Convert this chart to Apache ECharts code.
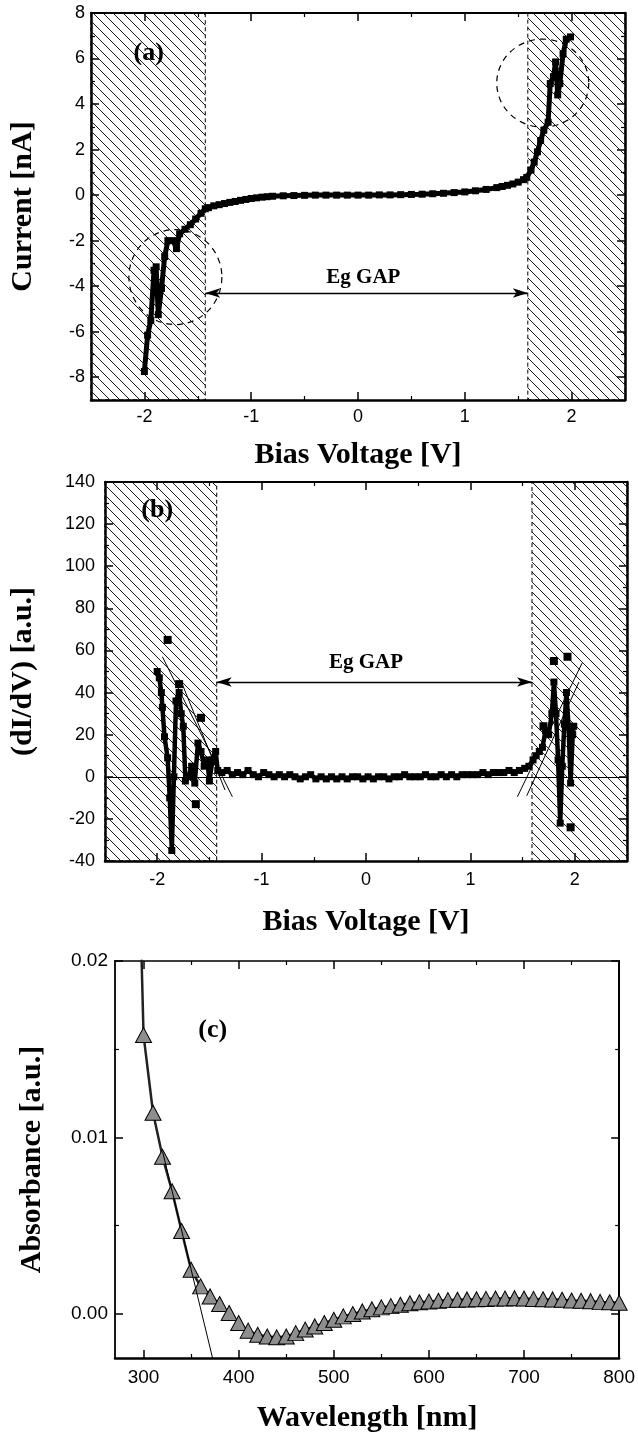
<!DOCTYPE html>
<html><head><meta charset="utf-8">
<script src="https://cdn.jsdelivr.net/npm/echarts@6/dist/echarts.min.js"></script>
<style>html,body{margin:0;padding:0;background:#fff}#c{width:638px;height:1434px}</style>
</head><body><div id="c"></div>
<script>
// ---------------- data ----------------
const ivVoltage = [-2.00,-1.97,-1.94,-1.91,-1.89,-1.87,-1.84,-1.81,-1.78,-1.73,-1.70,-1.67,-1.62,-1.57,-1.52,-1.47,-1.43,
  -1.40,-1.35,-1.30,-1.25,-1.20,-1.15,-1.10,-1.05,-1.00,-0.95,-0.90,-0.85,-0.80,-0.70,-0.60,-0.50,-0.40,-0.30,-0.20,-0.10,
  0.00,0.10,0.20,0.30,0.40,0.50,0.60,0.70,0.80,0.90,1.00,1.10,1.20,1.30,1.35,1.40,1.45,1.50,1.55,1.58,
  1.62,1.65,1.68,1.71,1.74,1.78,1.80,1.83,1.85,1.87,1.89,1.92,1.95,1.99];
const ivCurrent = [-7.75,-6.15,-5.5,-3.3,-3.15,-5.25,-4.1,-2.7,-2.0,-2.0,-2.35,-1.7,-1.5,-1.3,-1.05,-0.8,-0.6,
  -0.55,-0.47,-0.42,-0.37,-0.32,-0.28,-0.23,-0.19,-0.15,-0.12,-0.09,-0.07,-0.05,-0.03,-0.02,-0.01,0,0,0,0,
  0,0,0.01,0.01,0.02,0.03,0.04,0.06,0.08,0.11,0.14,0.19,0.25,0.33,0.38,0.43,0.49,0.57,0.68,0.78,
  1.1,1.45,1.9,2.4,2.85,3.2,4.9,5.2,5.85,4.4,4.9,6.2,6.85,6.95];

const didvVoltage = [-2.00,-1.98,-1.96,-1.95,-1.93,-1.90,-1.88,-1.86,-1.84,-1.82,-1.79,-1.77,-1.75,-1.73,-1.70,-1.67,-1.64,-1.61,-1.58,-1.55,-1.52,-1.50,-1.47,-1.44,-1.42,
  -1.38,-1.33,-1.28,-1.23,-1.18,-1.13,-1.08,-1.03,-0.98,-0.93,-0.88,-0.83,-0.78,-0.73,-0.68,-0.63,-0.58,-0.53,-0.48,-0.43,-0.38,-0.33,-0.28,-0.23,-0.18,-0.13,-0.08,-0.03,
  0.02,0.07,0.12,0.17,0.22,0.27,0.32,0.37,0.42,0.47,0.52,0.57,0.62,0.67,0.72,0.77,0.82,0.87,0.92,0.97,1.02,1.07,1.12,1.17,1.22,1.27,1.32,1.37,1.42,1.47,1.52,1.56,
  1.60,1.63,1.66,1.69,1.72,1.75,1.78,1.80,1.82,1.84,1.86,1.88,1.90,1.92,1.94,1.96,1.98,1.99];
const didvValue = [50,47,40,33,19,9,-10,-35,0,36,40,30,24,-2,0,5,-3,16,12,5,8,-2,8,12,3,
  2,3,1,2,1,3,1,0,2,1,0,1,0,1,0,-1,0,1,-1,0,-1,0,-1,0,-1,0,0,-1,
  0,-1,0,0,-1,0,0,1,0,0,0,1,0,0,1,0,1,0,1,1,1,1,2,1,2,2,2,3,2,3,4,5,
  8,10,12,14,22,20,30,45,30,8,-22,5,25,40,24,-3,20,24];
const didvStrayVoltage = [-1.90,-1.79,-1.58,-1.63,1.70,1.80,1.93,1.96];
const didvStrayValue = [65,44,28,-13,24,55,57,-24];
const didvTangentLeftA = [[-1.95,57],[-1.28,-9.5]];
const didvTangentLeftB = [[-1.76,44],[-1.35,-6.3]];
const didvTangentRightA = [[1.45,-9.5],[2.07,54]];
const didvTangentRightB = [[1.54,-9],[2.04,45]];

const absRiseWavelength = [296];
const absRiseValue = [0.0242];
const absWavelength = [300,310,320,330,340,350,360,370,380,390,400,410,420,430,440,450,460,470,480,490,500,
  510,520,530,540,550,560,570,580,590,600,610,620,630,640,650,660,670,680,690,700,
  710,720,730,740,750,760,770,780,790,800];
const absValue = [0.0158,0.0114,0.0089,0.00695,0.0047,0.0025,0.00156,0.00099,0.00056,0.00005,-0.00052,
  -0.00095,-0.00118,-0.00128,-0.00133,-0.00128,-0.00109,-0.00089,-0.00071,-0.00052,-0.00033,
  -0.00014,-0.00001,0.00014,0.00026,0.00037,0.00044,0.00052,0.0006,0.00066,0.0007,
  0.00074,0.00078,0.0008,0.00082,0.00083,0.00085,0.00087,0.00087,0.00089,0.00087,
  0.00085,0.00083,0.00082,0.0008,0.00076,0.00074,0.00072,0.00068,0.00066,0.00063];
const absTangent = [[320,0.0092],[373,-0.0026]];

const biasTicks = [-2,-1,0,1,2];
const biasMinorTicks = [-1.5,-0.5,0.5,1.5];
const currentTicks = [-8,-6,-4,-2,0,2,4,6,8];
const currentMinorTicks = [-9,-7,-5,-3,-1,1,3,5,7];
const didvTicks = [-40,-20,0,20,40,60,80,100,120,140];
const didvMinorTicks = [-30,-10,10,30,50,70,90,110,130];
const wlTicks = [300,400,500,600,700,800];
const wlMinorTicks = [350,450,550,650,750];
const absTicks = [0,0.01,0.02];
const absMinorTicks = [0.005,0.015];
const gapEdges = [-1.43,1.59];

// ---------------- helpers ----------------
const zip = (a,b) => a.map((v,i)=>[v,b[i]]);
const SERIF = 'Liberation Serif';
const SANS = 'Liberation Sans';

function hatchCanvas(){
  const c = document.createElement('canvas');
  c.width = 10; c.height = 10;
  const g = c.getContext('2d');
  g.strokeStyle = '#1a1a1a'; g.lineWidth = 1;
  g.beginPath();
  for (let k=-1;k<=1;k++){ g.moveTo(0,k*10); g.lineTo(10,10+k*10); }
  g.stroke();
  return c;
}
const hatch = {image: hatchCanvas(), repeat: 'repeat'};

const xAxes = [], yAxes = [];
function side(list, grid, position, min, max, majors, minors, lineW, extra){
  const common = {type:'value', gridIndex:grid, position, min, max, splitLine:{show:false},
    axisLabel:{show:false}, silent:true, axisPointer:{show:false}};
  const idx = list.length;
  list.push(Object.assign({}, common, {
    axisLine:{show:true,onZero:false,lineStyle:{color:'#000',width:lineW}},
    axisTick:{show:true,inside:true,length:8,customValues:majors,lineStyle:{color:'#000',width:1.5}}
  }, extra||{}));
  list.push(Object.assign({}, common, {
    axisLine:{show:false,onZero:false},
    axisTick:{show:true,inside:true,length:4,customValues:minors,lineStyle:{color:'#000',width:1.2}}
  }));
  return idx;
}
const titleStyle = {fontFamily:SERIF, fontWeight:'bold', fontSize:30, color:'#000'};
function labelStyle(size, margin){
  return {show:true, fontFamily:SANS, fontSize:size, color:'#000', margin};
}

// grid 0 (a)
const ax0 = side(xAxes,0,'bottom',-2.5,2.5,biasTicks,biasMinorTicks,2.5,{
  axisLabel:Object.assign(labelStyle(18,8),{customValues:biasTicks}),
  name:'Bias Voltage [V]', nameLocation:'middle', nameGap:40, nameTextStyle:titleStyle});
side(xAxes,0,'top',-2.5,2.5,biasTicks,biasMinorTicks,2);
const ay0 = side(yAxes,0,'left',-9,8,currentTicks,currentMinorTicks,2.5,{
  axisLabel:Object.assign(labelStyle(18,6),{customValues:currentTicks}),
  name:'Current [nA]', nameLocation:'middle', nameGap:53, nameTextStyle:titleStyle});
side(yAxes,0,'right',-9,8,currentTicks,currentMinorTicks,2.5);

// grid 1 (b)
const ax1 = side(xAxes,1,'bottom',-2.5,2.5,biasTicks,biasMinorTicks,2.5,{
  axisLabel:Object.assign(labelStyle(18,10),{customValues:biasTicks}),
  name:'Bias Voltage [V]', nameLocation:'middle', nameGap:46, nameTextStyle:titleStyle});
side(xAxes,1,'top',-2.5,2.5,biasTicks,biasMinorTicks,2);
const ay1 = side(yAxes,1,'left',-40,140,didvTicks,didvMinorTicks,2.5,{
  axisLabel:Object.assign(labelStyle(18,10),{customValues:didvTicks}),
  name:'(dI/dV) [a.u.]', nameLocation:'middle', nameGap:67, nameTextStyle:titleStyle});
side(yAxes,1,'right',-40,140,didvTicks,didvMinorTicks,2.5);

// grid 2 (c)
const ax2 = side(xAxes,2,'bottom',270,800,wlTicks,wlMinorTicks,2.5,{
  axisLabel:Object.assign(labelStyle(19,10),{customValues:wlTicks}),
  name:'Wavelength [nm]', nameLocation:'middle', nameGap:45, nameTextStyle:titleStyle});
side(xAxes,2,'top',270,800,wlTicks,wlMinorTicks,1.5);
const ay2 = side(yAxes,2,'left',-0.0025,0.02,absTicks,absMinorTicks,1.8,{
  axisLabel:Object.assign(labelStyle(19,7),{customValues:absTicks, formatter:v=>v.toFixed(2)}),
  name:'Absorbance [a.u.]', nameLocation:'middle', nameGap:68, nameTextStyle:titleStyle});
side(yAxes,2,'right',-0.0025,0.02,absTicks,absMinorTicks,2);

function textMark(xi, yi, pos, text, size){
  return {type:'scatter', xAxisIndex:xi, yAxisIndex:yi, silent:true, symbolSize:1,
    itemStyle:{color:'rgba(0,0,0,0)', opacity:1}, z:10,
    label:{show:true, position:'inside', formatter:text, fontFamily:SERIF, fontWeight:'bold', fontSize:size,
      color:'#000', textBorderWidth:0, opacity:1},
    data:[pos]};
}
function thinLine(xi, yi, pts){
  return {type:'line', xAxisIndex:xi, yAxisIndex:yi, silent:true, symbol:'none',
    lineStyle:{color:'#000', width:1}, data:pts, z:4};
}
function gapDecor(xi, yi, arrowY){
  return {type:'line', xAxisIndex:xi, yAxisIndex:yi, data:[], silent:true, z:1,
    markArea:{silent:true, itemStyle:{color:hatch, opacity:1, borderColor:'#000', borderWidth:1, borderType:[4,3]},
      data:[[{xAxis:-2.5},{xAxis:gapEdges[0]}],[{xAxis:gapEdges[1]},{xAxis:2.5}]]},
    markLine:{silent:true, symbol:['arrow','arrow'], symbolSize:[7,15], label:{show:false},
      lineStyle:{color:'#000', width:1.3, type:'solid'},
      data:[[{coord:[gapEdges[0],arrowY]},{coord:[gapEdges[1],arrowY]}]]}
  };
}
function zeroLine(xi, yi){
  return {type:'line', xAxisIndex:xi, yAxisIndex:yi, data:[], silent:true, z:2,
    markLine:{silent:true, symbol:'none', label:{show:false},
      lineStyle:{color:'#000', width:1, type:'solid'}, data:[{yAxis:0}]}};
}

const series = [
  // (a)
  gapDecor(ax0, ay0, -4.3),
  {type:'line', xAxisIndex:ax0, yAxisIndex:ay0, data:zip(ivVoltage, ivCurrent), symbol:'rect', symbolSize:7,
    lineStyle:{color:'#000', width:5}, itemStyle:{color:'#000'}, silent:true, z:3},
  {type:'scatter', xAxisIndex:ax0, yAxisIndex:ay0, silent:true, z:5,
    itemStyle:{color:'rgba(0,0,0,0)', opacity:1, borderColor:'#000', borderWidth:1.2, borderType:[6,5]},
    data:[{value:[-1.71,-3.6], symbolSize:[93,95]},{value:[1.73,4.92], symbolSize:[92,88]}]},
  textMark(ax0, ay0, [-1.96,6.25], '(a)', 26),
  textMark(ax0, ay0, [0.05,-3.62], 'Eg GAP', 21),
  // (b)
  gapDecor(ax1, ay1, 45),
  zeroLine(ax1, ay1),
  thinLine(ax1, ay1, didvTangentLeftA), thinLine(ax1, ay1, didvTangentLeftB),
  thinLine(ax1, ay1, didvTangentRightA), thinLine(ax1, ay1, didvTangentRightB),
  {type:'line', xAxisIndex:ax1, yAxisIndex:ay1, data:zip(didvVoltage, didvValue), symbol:'rect', symbolSize:7,
    lineStyle:{color:'#000', width:4.5}, itemStyle:{color:'#000'}, silent:true, z:3},
  {type:'scatter', xAxisIndex:ax1, yAxisIndex:ay1, data:zip(didvStrayVoltage, didvStrayValue), symbol:'rect', symbolSize:8,
    itemStyle:{color:'#000', opacity:1}, silent:true, z:3},
  textMark(ax1, ay1, [-2.0,126.6], '(b)', 26),
  textMark(ax1, ay1, [0.0,54], 'Eg GAP', 21),
  // (c)
  {type:'line', xAxisIndex:ax2, yAxisIndex:ay2, data:zip(absRiseWavelength.concat(absWavelength), absRiseValue.concat(absValue)),
    symbol:'none', lineStyle:{color:'#222', width:2.5}, silent:true, z:2},
  thinLine(ax2, ay2, absTangent),
  {type:'scatter', xAxisIndex:ax2, yAxisIndex:ay2, data:zip(absWavelength, absValue), symbol:'triangle', symbolSize:[16,15],
    itemStyle:{color:'#8e8e8e', opacity:1, borderColor:'#000', borderWidth:1}, silent:true, z:3},
  textMark(ax2, ay2, [372.7,0.01607], '(c)', 26)
];

const chart = echarts.init(document.getElementById('c'), null, {renderer:'canvas'});
chart.setOption({
  animation:false,
  backgroundColor:'#fff',
  grid:[
    {left:88, top:13, width:537, height:387, containLabel:false},
    {left:102, top:482, width:525, height:379, containLabel:false},
    {left:115, top:961, width:505, height:397, containLabel:false}
  ],
  xAxis:xAxes, yAxis:yAxes, series
});
</script></body></html>
